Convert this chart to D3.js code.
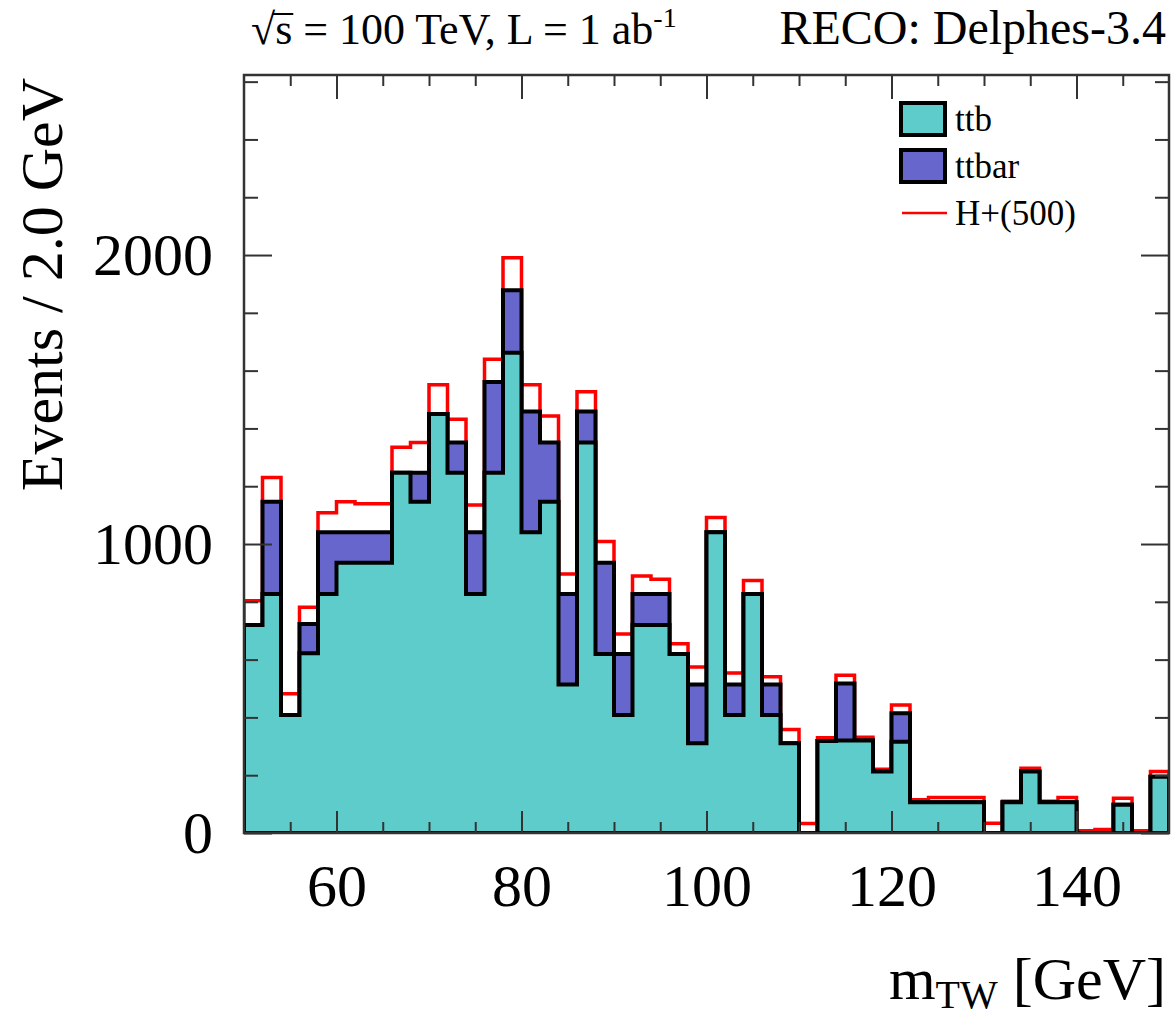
<!DOCTYPE html>
<html><head><meta charset="utf-8">
<script src="https://cdn.jsdelivr.net/npm/d3@7"></script>
<style>
body{margin:0;background:#fff}
text{font-family:"Liberation Serif","Times New Roman",Times,serif;fill:#000}
</style>
</head><body>
<svg id="chart" width="1174" height="1018"></svg>
<script>
// ---- data (bin low edges in GeV, bin width 2 GeV) ----
const binLow = [50,52,54,56,58,60,62,64,66,68,70,72,74,76,78,80,82,84,86,88,
                90,92,94,96,98,100,102,104,106,108,110,112,114,116,118,120,122,124,126,128,
                130,132,134,136,138,140,142,144,146,148];
const binWidth = 2;
const ttb   = [720,827,408,622,827,935,935,935,1247,1146,1450,1247,827,1247,1662,1041,1146,514,1351,619,
               408,720,720,619,311,1041,408,827,408,311,0,318,320,320,213,316,106,106,106,106,
               0,106,213,106,106,0,0,98,0,195];
const ttbar = [0,319,0,101,214,106,106,106,0,101,0,104,214,314,216,418,205,313,108,316,
               211,107,107,0,203,0,106,0,106,0,0,0,197,0,0,98,0,0,0,0,
               0,0,0,0,0,0,0,0,0,0];
const hplus = [84,84,74,58,67,105,98,98,88,104,101,81,94,78,113,92,92,69,68,74,
               70,62,51,36,60,51,40,47,27,47,33,12,29,11,8,29,9,17,17,17,
               34,4,11,4,17,8,12,22,8,18];
const seriesNames = ["ttb","ttbar","H+(500)"];
const xTicksMajor = [60,80,100,120,140];
const xTicksMinor = [55,65,70,75,85,90,95,105,110,115,125,130,135,145];
const yTicksMajor = [0,1000,2000];
const yTicksMinor = [200,400,600,800,1200,1400,1600,1800,2200,2400,2600];
const xDomain = [50,150];
const yDomain = [0,2623];

// ---- layout ----
const L = 244, R = 1169, T = 75, B = 833;
const svg = d3.select("#chart");
const x = d3.scaleLinear().domain(xDomain).range([L,R]);
const y = d3.scaleLinear().domain(yDomain).range([B,T]);

const colors = {ttb:"#5fcccc", ttbar:"#6666cc", hplus:"#ff0000"};

const table = binLow.map((b,i)=>({x0:b, ttb:ttb[i], ttbar:ttbar[i], hplus:hplus[i]}));
const stacked = d3.stack().keys(["ttb","ttbar","hplus"])(table);

svg.append("defs").append("clipPath").attr("id","plotclip")
  .append("rect").attr("x",L).attr("y",T).attr("width",R-L).attr("height",B-T);

function stepPoints(layer){
  const pts = layer.map(d=>[d.data.x0, d[1]]);
  pts.push([xDomain[1], layer[layer.length-1][1]]);
  return pts;
}
const area = d3.area().curve(d3.curveStepAfter)
  .x(d=>x(d[0])).y0(y(0)).y1(d=>y(d[1]));

const g = svg.append("g").attr("clip-path","url(#plotclip)");
// total (H+ stacked on top) drawn first
g.append("path").attr("d", area(stepPoints(stacked[2])))
  .attr("fill","#fff").attr("stroke",colors.hplus).attr("stroke-width",3.5);
g.append("path").attr("d", area(stepPoints(stacked[1])))
  .attr("fill",colors.ttbar).attr("stroke","#000").attr("stroke-width",4);
g.append("path").attr("d", area(stepPoints(stacked[0])))
  .attr("fill",colors.ttb).attr("stroke","#000").attr("stroke-width",4);

// ---- axes ----
const axCol = "#333";
function styleAxis(sel){
  sel.select(".domain").remove();
  sel.selectAll(".tick line").attr("stroke",axCol).attr("stroke-width",2);
  sel.selectAll("text").style("font-family",'"Liberation Serif","Times New Roman",serif')
     .attr("fill","#000");
}
// bottom
svg.append("g").attr("transform",`translate(0,${B})`)
  .call(d3.axisBottom(x).tickValues(xTicksMajor).tickSize(-22).tickPadding(30).tickFormat(d3.format("d")))
  .call(styleAxis).selectAll("text").attr("font-size",60);
svg.append("g").attr("transform",`translate(0,${B})`)
  .call(d3.axisBottom(x).tickValues(xTicksMinor).tickSize(-11).tickFormat(""))
  .call(styleAxis);
// top
svg.append("g").attr("transform",`translate(0,${T})`)
  .call(d3.axisTop(x).tickValues(xTicksMajor).tickSize(-24).tickFormat(""))
  .call(styleAxis);
svg.append("g").attr("transform",`translate(0,${T})`)
  .call(d3.axisTop(x).tickValues(xTicksMinor).tickSize(-11).tickFormat(""))
  .call(styleAxis);
// left
svg.append("g").attr("transform",`translate(${L},0)`)
  .call(d3.axisLeft(y).tickValues(yTicksMajor).tickSize(-28).tickPadding(31).tickFormat(d3.format("d")))
  .call(styleAxis).selectAll("text").attr("font-size",60);
svg.append("g").attr("transform",`translate(${L},0)`)
  .call(d3.axisLeft(y).tickValues(yTicksMinor).tickSize(-14).tickFormat(""))
  .call(styleAxis);
// right
svg.append("g").attr("transform",`translate(${R},0)`)
  .call(d3.axisRight(y).tickValues(yTicksMajor).tickSize(-28).tickFormat(""))
  .call(styleAxis);
svg.append("g").attr("transform",`translate(${R},0)`)
  .call(d3.axisRight(y).tickValues(yTicksMinor).tickSize(-14).tickFormat(""))
  .call(styleAxis);

// frame
svg.append("rect").attr("x",L).attr("y",T).attr("width",R-L).attr("height",B-T)
  .attr("fill","none").attr("stroke",axCol).attr("stroke-width",2.5);

// ---- titles ----
const t1 = svg.append("text").attr("x",251).attr("y",44).attr("font-size",44);
t1.append("tspan").text("\u221A");
t1.append("tspan").text("s");
t1.append("tspan").text(" = 100 TeV, L = 1 ab");
t1.append("tspan").attr("dy",-17).attr("font-size",28).text("-1");
// overline of the square root over "s"
{
  const n = t1.node();
  const e0 = n.getExtentOfChar(0), e1 = n.getExtentOfChar(1);
  const yTop = 44 - 30;
  svg.append("line").attr("x1", e0.x + e0.width - 3).attr("x2", e1.x + e1.width + 1)
    .attr("y1", yTop).attr("y2", yTop).attr("stroke","#000").attr("stroke-width",2);
}

svg.append("text").attr("x",1166).attr("y",44).attr("font-size",48)
  .attr("text-anchor","end").text("RECO: Delphes-3.4");

// y title
svg.append("text").attr("transform","translate(62,78) rotate(-90)")
  .attr("text-anchor","end").attr("font-size",60).text("Events / 2.0 GeV");

// x title
const xt = svg.append("text").attr("x",1166).attr("y",999).attr("font-size",60).attr("text-anchor","end");
xt.append("tspan").text("m");
xt.append("tspan").attr("dy",9).attr("font-size",40).text("TW");
xt.append("tspan").attr("dy",-9).text(" [GeV]");

// ---- legend ----
const leg = svg.append("g");
const legRows = [
  {name:seriesNames[0], type:"box", fill:colors.ttb, y:103},
  {name:seriesNames[1], type:"box", fill:colors.ttbar, y:150},
  {name:seriesNames[2], type:"line", fill:colors.hplus, y:197}
];
legRows.forEach(r=>{
  if(r.type==="box"){
    leg.append("rect").attr("x",901).attr("y",r.y).attr("width",44).attr("height",32)
      .attr("fill",r.fill).attr("stroke","#000").attr("stroke-width",4);
  } else {
    leg.append("line").attr("x1",902).attr("x2",947).attr("y1",r.y+16).attr("y2",r.y+16)
      .attr("stroke",r.fill).attr("stroke-width",2.5);
  }
  leg.append("text").attr("x",955).attr("y",r.y+28).attr("font-size",35).text(r.name);
});
</script>
</body></html>
